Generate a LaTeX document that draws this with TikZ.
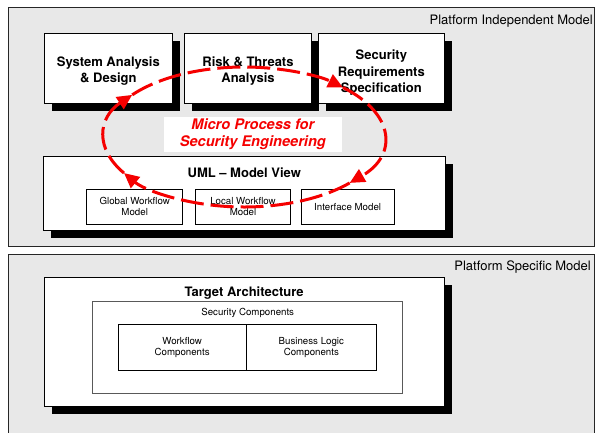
\documentclass[tikz,border=0pt]{standalone}
\usepackage{fontspec}
\setmainfont{TeX Gyre Heros}
\usetikzlibrary{arrows.meta,shadows}
\definecolor{panelgray}{RGB}{232,232,232}
\definecolor{loopred}{RGB}{245,0,0}
\begin{document}
\begin{tikzpicture}[x=1pt,y=-1pt,
  panel/.style={draw=black!85,fill=panelgray,line width=0.9pt,inner sep=0pt},
  boxbase/.style={draw,fill=white,line width=0.8pt,inner sep=0pt,align=center},
  mainbox/.style={boxbase,drop shadow={shadow xshift=7.5pt,shadow yshift=-7.5pt,fill=black,opacity=1}},
  subbox/.style={boxbase,line width=0.7pt,font=\fontsize{9.7}{11.5}\selectfont},
  boxtitle/.style={font=\bfseries\fontsize{13}{16.5}\selectfont,inner sep=0pt,align=center,text depth=0pt},
  paneltitle/.style={font=\fontsize{13}{15}\selectfont,inner sep=0pt,anchor=east},
  smalltext/.style={font=\fontsize{9.7}{11.5}\selectfont,inner sep=0pt},
  flow/.style={draw=loopred,line width=3pt,dash pattern=on 23pt off 7pt,
    -{Triangle[length=15pt,width=14pt]}}
]
\clip (0,0) rectangle (596,432);

% the two model panels
\node[panel,minimum width=586pt,minimum height=239.5pt] (pim) at (301.5,126.75) {};
\node[panel,minimum width=586pt,minimum height=200pt] (psm) at (301.5,354) {};
\node[paneltitle] (pimlabel) at (593,21) {Platform Independent Model};
\node[paneltitle] (psmlabel) at (591,267) {Platform Specific Model};

% engineering activities
\node[mainbox,minimum width=127.3pt,minimum height=70pt] (sad) at (108.35,68.3) {};
\node[boxtitle] (sadtext) at (108.35,69.7) {System Analysis\\\& Design};
\node[mainbox,minimum width=127.4pt,minimum height=70pt] (rta) at (248,68.3) {};
\node[boxtitle] (rtatext) at (248,69.5) {Risk \& Threats\\Analysis};
\node[mainbox,minimum width=126.7pt,minimum height=70pt] (srs) at (381.35,68.3) {};
\node[boxtitle] (srstext) at (381.35,71.5) {Security\\Requirements\\Specification};

% UML model view
\node[mainbox,minimum width=402pt,minimum height=74pt] (uml) at (244.3,193.7) {};
\node[boxtitle] (umltitle) at (244.3,172.7) {UML \textendash{} Model View};
\node[subbox,minimum width=96pt,minimum height=34.7pt] (gwm) at (134.7,206.65) {Global Workflow\\Model};
\node[subbox,minimum width=95.4pt,minimum height=34.7pt] (lwm) at (243,206.65) {Local Workflow\\Model};
\node[subbox,minimum width=93.3pt,minimum height=34.7pt] (ifm) at (347.65,206.65) {Interface Model};

% target architecture
\node[mainbox,minimum width=400.3pt,minimum height=129.4pt] (ta) at (244.15,342) {};
\node[boxtitle] (tatitle) at (244.15,291.7) {Target Architecture};
\node[boxbase,draw=black!65,line width=1.2pt,minimum width=310pt,minimum height=91.6pt] (sc) at (247.7,347.5) {};
\node[smalltext] (sctitle) at (247.7,312.7) {Security Components};
\node[subbox,minimum width=127.7pt,minimum height=46.7pt] (wc) at (182.15,347.35) {Workflow\\Components};
\node[subbox,minimum width=130.7pt,minimum height=46.7pt] (blc) at (311.35,347.35) {Business Logic\\Components};

% micro process loop
\node[fill=white,minimum width=177.7pt,minimum height=35pt,inner sep=0pt,align=center,text=loopred,
  font=\bfseries\itshape\fontsize{14.6}{17}\selectfont] (micro) at (252.85,134.2) {Micro Process for\\Security Engineering};
\coordinate (loopc) at (244,137);
\draw[flow] (loopc) ++(149:140 and 70) arc[start angle=149,end angle=217,x radius=140,y radius=70];
\draw[flow] (loopc) ++(217:140 and 70) arc[start angle=217,end angle=315,x radius=140,y radius=70];
\draw[flow] (loopc) ++(315:140 and 70) arc[start angle=315,end angle=401,x radius=140,y radius=70];
\draw[flow] (loopc) ++(41:140 and 70) arc[start angle=41,end angle=149,x radius=140,y radius=70];
\end{tikzpicture}
\end{document}
